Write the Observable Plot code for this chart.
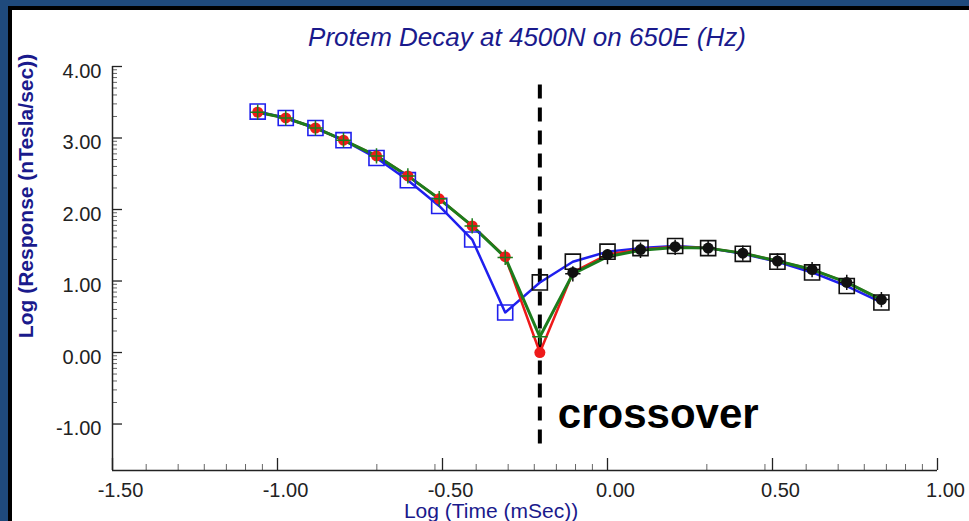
<!DOCTYPE html>
<html><head><meta charset="utf-8">
<script src="https://cdn.jsdelivr.net/npm/d3@7"></script>
<script src="https://cdn.jsdelivr.net/npm/@observablehq/plot@0.6"></script>
<style>
html,body{margin:0;padding:0;background:#1f4a7c;width:969px;height:521px;overflow:hidden;}
#panel{position:absolute;left:8px;top:6px;width:957px;height:511px;border-left:4px solid #000;border-top:4px solid #000;background:#fff;}
#panel svg{display:block;}
#ylabel{position:absolute;left:26px;top:196px;transform:translate(-50%,-50%) rotate(-90deg);white-space:nowrap;font:bold 21px 'Liberation Sans',Arial,sans-serif;color:#1a1a8c;}
</style></head><body><div id="panel"></div><div id="ylabel"></div>
<script>
// ---- data ----
const timeLog   = [-1.06, -0.975, -0.885, -0.80, -0.70, -0.605, -0.51, -0.41, -0.31, -0.205, -0.105, 0.0, 0.10, 0.205, 0.305, 0.41, 0.515, 0.62, 0.725, 0.83];
const blueResp  = [3.37, 3.28, 3.14, 2.97, 2.72, 2.41, 2.05, 1.58, 0.56, 0.98, 1.27, 1.41, 1.46, 1.49, 1.46, 1.38, 1.27, 1.12, 0.93, 0.70];
const redResp   = [3.36, 3.28, 3.14, 2.97, 2.75, 2.47, 2.15, 1.77, 1.34, 0.00, 1.12, 1.37, 1.44, 1.48, 1.46, 1.39, 1.28, 1.16, 0.98, 0.74];
const greenResp = [3.36, 3.28, 3.14, 2.97, 2.75, 2.47, 2.15, 1.77, 1.33, 0.22, 1.10, 1.34, 1.43, 1.47, 1.46, 1.39, 1.28, 1.16, 0.98, 0.74];
const crossoverX = -0.205;
const crossoverSpan = [3.74, -1.38];
const crossoverLabel = "crossover";
const crossoverLabelY = -0.87;
const xTicks = [-1.5, -1.0, -0.5, 0.0, 0.5, 1.0];
const yTicks = [-1, 0, 1, 2, 3, 4];
const xDomain = [-1.5, 1.0];
const yDomain = [-1.65, 4.0];
const titleText = "Protem Decay at 4500N on 650E (Hz)";
const xLabel = "Log (Time (mSec))";
const yLabel = "Log (Response (nTesla/sec))";

// ---- build ----
const rows = timeLog.map((t, i) => ({t, blue: blueResp[i], red: redResp[i], green: greenResp[i]}));
const W = 957, H = 511, mL = 100, mR = 32, mT = 56, mB = 51;
const frameW = W - mL - mR, frameH = H - mT - mB;

const minorX = [];
for (const n of [-2, -1, 0]) for (let k = 2; k <= 9; k++) { const v = n + Math.log10(k); if (v > xDomain[0] && v < xDomain[1]) minorX.push(v); }
const minorY = [];
for (const n of [-1, 0, 1, 2, 3]) for (let k = 2; k <= 9; k++) { const v = n + Math.log10(k); if (v > yDomain[0] && v < yDomain[1]) minorY.push(v); }

const BLUE = "#1f1fee", RED = "#ee1a1a", GREEN = "#1c7d1c", INK = "#111";
const afterX = d => d.t > crossoverX + 0.01;
const atOrAfterX = d => d.t > crossoverX - 0.01;

const chart = Plot.plot({
  width: W, height: H,
  marginLeft: mL, marginRight: mR, marginTop: mT, marginBottom: mB,
  style: {background: "#fff", fontFamily: "'Liberation Sans', Arial, sans-serif"},
  x: {domain: xDomain},
  y: {domain: yDomain},
  marks: [
    // axis labels
    Plot.axisX({ticks: xTicks, tickSize: 0, tickPadding: 12, tickFormat: d => d.toFixed(2), fontSize: 20, color: "#222", label: null, dx: 8}),
    Plot.axisY({ticks: yTicks, tickSize: 0, tickPadding: 11, tickFormat: d => d.toFixed(2), fontSize: 20, color: "#222", label: null, dy: 5}),
    // minor ticks
    Plot.ruleX(minorX, {x: d => d, insetTop: frameH - 6, stroke: "#666", strokeWidth: 1}),
    Plot.ruleX(xTicks, {x: d => d, insetTop: frameH - 12, stroke: "#222", strokeWidth: 1.3}),
    Plot.ruleY(minorY, {y: d => d, insetRight: frameW - 5, stroke: "#666", strokeWidth: 1}),
    Plot.ruleY(yTicks, {y: d => d, insetRight: frameW - 10, stroke: "#222", strokeWidth: 1.3}),
    // axis lines
    Plot.ruleX([xDomain[0]], {stroke: "#222", strokeWidth: 1.5}),
    Plot.ruleY([yDomain[0]], {stroke: "#222", strokeWidth: 1.5}),
    // crossover line
    Plot.ruleX([crossoverX], {x: d => d, y1: crossoverSpan[0], y2: crossoverSpan[1], stroke: "#000", strokeWidth: 4, strokeDasharray: "14,9"}),
    Plot.text([crossoverLabel], {x: crossoverX, y: crossoverLabelY, text: d => d, textAnchor: "start", dx: 18, fontSize: 42, fontWeight: "bold", fill: "#000"}),
    // series lines
    Plot.line(rows, {x: "t", y: "blue", stroke: BLUE, strokeWidth: 2.5}),
    Plot.line(rows, {x: "t", y: "red", stroke: RED, strokeWidth: 2.5}),
    Plot.line(rows, {x: "t", y: "green", stroke: GREEN, strokeWidth: 3}),
    // markers
    Plot.dot(rows, {x: "t", y: "blue", symbol: "square", r: 8.5, stroke: d => atOrAfterX(d) ? INK : BLUE, strokeWidth: 1.6, fill: "none"}),
    Plot.dot(rows, {x: "t", y: "red", r: 5.5, fill: d => afterX(d) ? INK : RED, stroke: "none"}),
    Plot.dot(rows, {x: "t", y: "green", symbol: "plus", r: 5, stroke: d => afterX(d) ? INK : GREEN, strokeWidth: 1.5}),
    // title and x label
    Plot.text([titleText], {frameAnchor: "top", lineAnchor: "middle", text: d => d, dy: -29, dx: 2, fontSize: 26, fontStyle: "italic", fill: "#1a1a8c"}),
    Plot.text([xLabel], {frameAnchor: "bottom", lineAnchor: "middle", text: d => d, dy: 41, dx: -34, fontSize: 21, fill: "#1a1a8c"})
  ]
});
document.getElementById("panel").appendChild(chart);
document.getElementById("ylabel").textContent = yLabel;
</script>
</body></html>
